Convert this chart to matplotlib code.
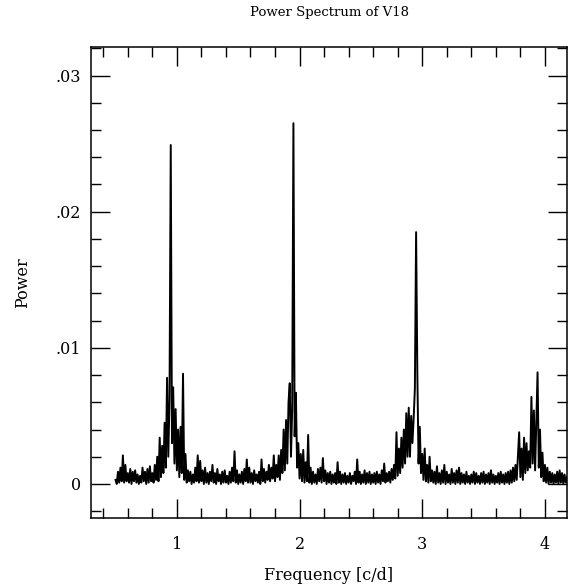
import numpy as np
import matplotlib
matplotlib.use("Agg")
from matplotlib import pyplot as plt
from matplotlib.ticker import MultipleLocator, FuncFormatter

plt.rcParams['font.family'] = ['DejaVu Serif']

# frequency grid (c/d), 0.01 step
freq = np.round(np.arange(0.50, 4.185, 0.01), 2)

# power in units of 1e-4, one row per 0.1 c/d
power_e4 = [
    3, 0, 9, 1, 12, 2, 21, 1, 14, 2,        # 0.50
    8, 1, 11, 0, 9, 2, 10, 1, 7, 0,         # 0.60
    6, 1, 12, 2, 9, 0, 11, 1, 13, 2,        # 0.70
    8, 1, 14, 3, 20, 2, 34, 5, 28, 8,       # 0.80
    45, 12, 78, 20, 62, 249, 30, 71, 15, 55,  # 0.90
    10, 40, 5, 42, 8, 81, 3, 22, 1, 10,     # 1.00
    2, 9, 0, 7, 1, 12, 2, 21, 1, 17,        # 1.10
    2, 10, 0, 12, 1, 8, 0, 9, 2, 14,        # 1.20
    1, 8, 0, 11, 2, 7, 0, 9, 1, 10,         # 1.30
    1, 6, 0, 9, 1, 12, 2, 24, 1, 10,        # 1.40
    0, 7, 1, 9, 0, 11, 2, 18, 1, 12,        # 1.50
    1, 8, 0, 10, 2, 7, 1, 9, 0, 18,         # 1.60
    2, 11, 1, 9, 3, 14, 2, 12, 4, 21,       # 1.70
    2, 14, 5, 21, 3, 25, 8, 40, 10, 47,     # 1.80
    15, 60, 74, 20, 55, 265, 35, 67, 12, 30,  # 1.90
    4, 22, 2, 25, 1, 16, 2, 36, 1, 12,      # 2.00
    0, 9, 1, 7, 0, 11, 2, 12, 1, 19,        # 2.10
    2, 10, 0, 8, 1, 9, 0, 7, 1, 8,          # 2.20
    0, 16, 1, 9, 0, 7, 1, 8, 0, 6,          # 2.30
    1, 8, 0, 6, 2, 9, 0, 18, 1, 9,          # 2.40
    0, 7, 1, 10, 0, 8, 1, 9, 0, 7,          # 2.50
    1, 8, 0, 9, 1, 7, 0, 10, 2, 15,         # 2.60
    1, 8, 2, 9, 1, 11, 3, 14, 4, 38,        # 2.70
    6, 26, 8, 34, 12, 40, 15, 52, 20, 56,   # 2.80
    20, 50, 30, 48, 70, 185, 82, 15, 42, 8,  # 2.90
    22, 3, 26, 2, 14, 1, 20, 2, 10, 1,      # 3.00
    9, 0, 13, 1, 8, 0, 10, 1, 14, 0,        # 3.10
    9, 1, 7, 0, 11, 1, 8, 0, 10, 1,         # 3.20
    12, 0, 8, 1, 7, 0, 9, 1, 6, 0,          # 3.30
    7, 1, 9, 0, 8, 1, 6, 0, 8, 1,           # 3.40
    9, 0, 7, 1, 8, 0, 10, 1, 7, 0,          # 3.50
    6, 1, 8, 0, 9, 1, 7, 0, 8, 1,           # 3.60
    9, 0, 10, 1, 12, 2, 14, 3, 20, 38,      # 3.70
    5, 26, 3, 34, 8, 30, 10, 24, 12, 64,    # 3.80
    15, 54, 10, 46, 82, 12, 40, 5, 23, 2,   # 3.90
    14, 1, 12, 0, 9, 1, 8, 0, 7, 1,         # 4.00
    9, 0, 10, 1, 8, 0, 7, 1, 5,             # 4.10
]
power = np.array(power_e4) * 1e-4

fig = plt.figure(figsize=(5.7, 5.84), dpi=100)
ax = fig.add_axes([91 / 570, 1 - 518 / 584, 476 / 570, 471 / 584])

ax.plot(freq, power, color='black', lw=1.4)

ax.set_xlim(0.3, 4.18)
ax.set_ylim(-0.0025, 0.0321)

ax.xaxis.set_major_locator(MultipleLocator(1))
ax.xaxis.set_minor_locator(MultipleLocator(0.2))
ax.yaxis.set_major_locator(MultipleLocator(0.01))
ax.yaxis.set_minor_locator(MultipleLocator(0.002))


def ylab(v, pos):
    if abs(v) < 1e-9:
        return '0'
    return ('%.2f' % v).lstrip('0')


ax.yaxis.set_major_formatter(FuncFormatter(ylab))
ax.tick_params(which='both', direction='in', top=True, right=True, width=1.0,
               labelsize=11.5)
ax.tick_params(which='major', length=14)
ax.tick_params(which='minor', length=7.5)
ax.tick_params(axis='x', pad=13)
ax.tick_params(axis='y', pad=7)
for s in ax.spines.values():
    s.set_linewidth(1.1)

ax.set_title('Power Spectrum of V18', fontsize=9.5, pad=22)
ax.set_xlabel('Frequency [c/d]', fontsize=11.5, labelpad=10)
ax.set_ylabel('Power', fontsize=11.5, labelpad=18)

fig.savefig('out.png', dpi=100)
